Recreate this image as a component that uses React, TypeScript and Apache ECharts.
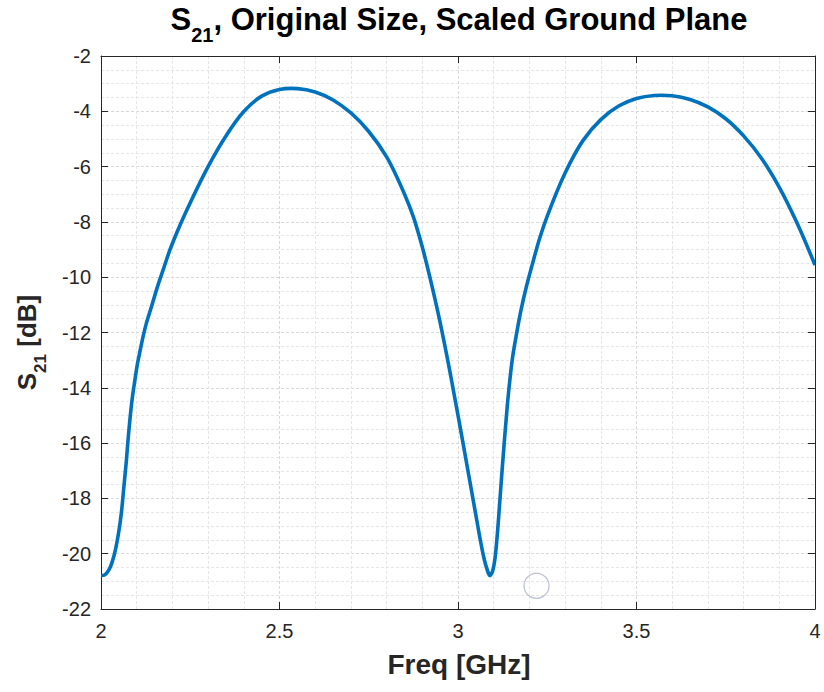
import React, { useEffect, useRef } from 'react';
import * as echarts from 'echarts';

// Frequency samples (GHz) and S21 (dB)
const freqGHz = [
  2.000, 2.010, 2.024, 2.038, 2.049, 2.057, 2.064, 2.071, 2.076, 2.082,
  2.088, 2.095, 2.102, 2.110, 2.118, 2.127, 2.142, 2.158, 2.175, 2.192,
  2.212, 2.234, 2.300, 2.350, 2.400, 2.450, 2.500, 2.550, 2.600, 2.650,
  2.700, 2.750, 2.800, 2.850, 2.875, 2.900, 2.921, 2.949, 2.977, 3.005,
  3.033, 3.050, 3.061, 3.072, 3.081, 3.089, 3.096, 3.103, 3.110, 3.117,
  3.124, 3.131, 3.138, 3.145, 3.153, 3.164, 3.176, 3.192, 3.210, 3.229,
  3.250, 3.300, 3.350, 3.400, 3.450, 3.500, 3.550, 3.600, 3.650, 3.700,
  3.750, 3.800, 3.850, 3.900, 3.950, 4.000,
];
const s21dB = [
  -20.79, -20.77, -20.54, -19.99, -19.27, -18.53, -17.59, -16.65, -15.85, -15.02,
  -14.33, -13.72, -13.14, -12.63, -12.14, -11.67, -11.04, -10.35, -9.70, -9.05,
  -8.40, -7.75, -6.00, -4.89, -4.01, -3.45, -3.21, -3.18, -3.30, -3.59,
  -4.06, -4.73, -5.65, -6.99, -7.82, -8.91, -9.99, -11.58, -13.39, -15.35,
  -17.37, -18.60, -19.40, -20.12, -20.55, -20.79, -20.66, -20.23, -19.32, -18.13,
  -16.90, -15.74, -14.66, -13.75, -12.89, -12.05, -11.22, -10.32, -9.45, -8.58,
  -7.79, -6.23, -5.06, -4.30, -3.81, -3.54, -3.43, -3.44, -3.57, -3.84,
  -4.27, -4.89, -5.70, -6.75, -8.05, -9.56,
];
// Stray circle marker in the plot
const markerFreq = [3.22];
const markerDB = [-21.16];

const xMin = 2, xMax = 4, xStep = 0.5;
const yMin = -22, yMax = -2, yStep = 2;

const FONT = '"Liberation Sans", Arial, Helvetica, sans-serif';
const AXIS_COLOR = '#262626';
const LINE_COLOR = '#0072BD';

// Centripetal Catmull-Rom spline through pixel points, as SVG path data
function splinePath(pts: number[][]): string {
  const alpha = 0.5;
  const n = pts.length;
  if (n < 2) return '';
  let d = `M${pts[0][0].toFixed(2)},${pts[0][1].toFixed(2)}`;
  for (let i = 0; i < n - 1; i++) {
    const p0 = pts[i - 1] || pts[i];
    const p1 = pts[i];
    const p2 = pts[i + 1];
    const p3 = pts[i + 2] || pts[i + 1];
    const d01 = Math.hypot(p1[0] - p0[0], p1[1] - p0[1]);
    const d12 = Math.hypot(p2[0] - p1[0], p2[1] - p1[1]);
    const d23 = Math.hypot(p3[0] - p2[0], p3[1] - p2[1]);
    const l01a = Math.pow(d01, alpha), l01_2a = Math.pow(d01, 2 * alpha);
    const l12a = Math.pow(d12, alpha), l12_2a = Math.pow(d12, 2 * alpha);
    const l23a = Math.pow(d23, alpha), l23_2a = Math.pow(d23, 2 * alpha);
    let c1x = p1[0], c1y = p1[1], c2x = p2[0], c2y = p2[1];
    if (l01a > 1e-6) {
      const a = 2 * l01_2a + 3 * l01a * l12a + l12_2a;
      const nn = 3 * l01a * (l01a + l12a);
      c1x = (p1[0] * a - p0[0] * l12_2a + p2[0] * l01_2a) / nn;
      c1y = (p1[1] * a - p0[1] * l12_2a + p2[1] * l01_2a) / nn;
    }
    if (l23a > 1e-6) {
      const b = 2 * l23_2a + 3 * l23a * l12a + l12_2a;
      const m = 3 * l23a * (l23a + l12a);
      c2x = (p2[0] * b + p1[0] * l23_2a - p3[0] * l12_2a) / m;
      c2y = (p2[1] * b + p1[1] * l23_2a - p3[1] * l12_2a) / m;
    }
    d += ` C${c1x.toFixed(2)},${c1y.toFixed(2)} ${c2x.toFixed(2)},${c2y.toFixed(2)} ${p2[0].toFixed(2)},${p2[1].toFixed(2)}`;
  }
  return d;
}

export default function App() {
  const ref = useRef<HTMLDivElement>(null);
  useEffect(() => {
    document.body.style.margin = '0';
    if (!ref.current) return;
    const chart = echarts.init(ref.current, null, { renderer: 'svg' });
    const lineData = freqGHz.map((f, i) => [f, s21dB[i]]);
    const markData = markerFreq.map((f, i) => [f, markerDB[i]]);

    const gridL = 101, gridR = 9, gridT = 56, gridB = 83;
    const plotCx = gridL + (824 - gridL - gridR) / 2;
    const plotCy = gridT + (692 - gridT - gridB) / 2;

    const subRich = (big: number, small: number, pad: number) => ({
      a: { fontSize: big, fontWeight: 'bold' as const, fontFamily: FONT, lineHeight: big + 5, verticalAlign: 'top' as const },
      sub: { fontSize: small, fontWeight: 'bold' as const, fontFamily: FONT, lineHeight: small + 1, padding: [pad, 0, 0, 0], verticalAlign: 'top' as const },
    });

    const baseX = {
      type: 'value' as const,
      min: xMin, max: xMax, interval: xStep,
      axisLine: { show: true, lineStyle: { color: AXIS_COLOR, width: 1 } },
      axisTick: { show: true, inside: true, length: 7, lineStyle: { color: AXIS_COLOR } },
    };
    const baseY = {
      type: 'value' as const,
      min: yMin, max: yMax, interval: yStep,
      axisLine: { show: true, lineStyle: { color: AXIS_COLOR, width: 1 } },
      axisTick: { show: true, inside: true, length: 7, lineStyle: { color: AXIS_COLOR } },
    };

    const majorGrid = { show: true, lineStyle: { color: '#d9d9d9', type: [3, 2], width: 1 } };
    const minorGrid = { show: true, lineStyle: { color: '#e6e6e6', type: [3, 2], width: 1 } };

    chart.setOption({
      animation: false,
      backgroundColor: '#ffffff',
      grid: { left: gridL, right: gridR, top: gridT, bottom: gridB, containLabel: false },
      xAxis: [
        {
          ...baseX,
          position: 'bottom',
          axisLabel: { show: true, color: AXIS_COLOR, fontSize: 20, fontFamily: FONT, margin: 12 },
          splitLine: majorGrid,
          minorTick: { show: false, splitNumber: 5 },
          minorSplitLine: minorGrid,
        },
        {
          ...baseX,
          position: 'top',
          axisLabel: { show: false },
          splitLine: { show: false },
        },
      ],
      yAxis: [
        {
          ...baseY,
          position: 'left',
          axisLabel: { show: true, color: AXIS_COLOR, fontSize: 20, fontFamily: FONT, margin: 10 },
          splitLine: majorGrid,
          minorTick: { show: false, splitNumber: 4 },
          minorSplitLine: minorGrid,
        },
        {
          ...baseY,
          position: 'right',
          axisLabel: { show: false },
          splitLine: { show: false },
        },
      ],
      series: [
        {
          type: 'custom',
          name: 'S21',
          coordinateSystem: 'cartesian2d',
          xAxisIndex: 0,
          yAxisIndex: 0,
          data: lineData,
          encode: { x: 0, y: 1 },
          clip: true,
          z: 3,
          renderItem: (params: any, api: any) => {
            if (params.dataIndex !== 0) return null;
            const pts = lineData.map((p) => api.coord(p));
            return {
              type: 'path',
              shape: { pathData: splinePath(pts) },
              style: { fill: 'none', stroke: LINE_COLOR, lineWidth: 3.6, lineJoin: 'round' },
            };
          },
        },
        {
          type: 'scatter',
          xAxisIndex: 0,
          yAxisIndex: 0,
          data: markData,
          symbol: 'circle',
          symbolSize: 25,
          itemStyle: { color: 'rgba(0,0,0,0)', borderColor: '#b0b0cc', borderWidth: 1.3 },
          z: 4,
        },
      ],
      graphic: [
        {
          type: 'text',
          x: plotCx + 1,
          y: 4,
          style: {
            text: '{a|S}{sub|21}{a|, Original Size, Scaled Ground Plane}',
            align: 'center',
            verticalAlign: 'top',
            fill: '#000000',
            rich: subRich(31, 20, 21),
          },
        },
        {
          type: 'text',
          x: 14,
          y: plotCy + 10,
          rotation: Math.PI / 2,
          style: {
            text: '{a|S}{sub|21}{a| [dB]}',
            align: 'center',
            verticalAlign: 'top',
            fill: AXIS_COLOR,
            rich: subRich(26, 17, 18),
          },
        },
        {
          type: 'text',
          x: plotCx + 1,
          y: 664,
          style: {
            text: 'Freq [GHz]',
            align: 'center',
            verticalAlign: 'middle',
            fill: AXIS_COLOR,
            fontSize: 28,
            fontWeight: 'bold',
            fontFamily: FONT,
          },
        },
      ],
    });
    return () => chart.dispose();
  }, []);
  return <div ref={ref} style={{ width: 824, height: 692 }} />;
}
